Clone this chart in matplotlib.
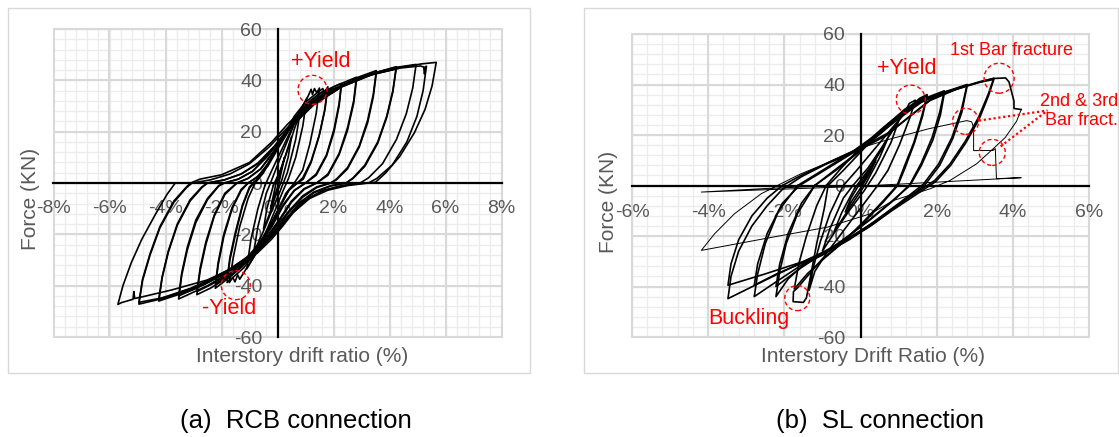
import matplotlib

matplotlib.use("Agg")
import matplotlib.pyplot as plt
import numpy as np
from matplotlib.patches import Ellipse, Rectangle

plt.rcParams["font.family"] = ["Liberation Sans", "DejaVu Sans"]
plt.rcParams["axes.unicode_minus"] = False

W, H, DPI = 1119, 437, 100
GRID_MAJOR = "#d9d9d9"
GRID_MINOR = "#ececec"
LABEL = "#595959"
RED = "#ff0000"

force_ticks = [-60, -40, -20, 0, 20, 40, 60]
rcb_drift_ticks = [-8, -6, -4, -2, 0, 2, 4, 6, 8]
sl_drift_ticks = [-6, -4, -2, 0, 2, 4, 6]

# RCB connection: drift (%) / force (kN) cycles, in loading order
rcb_cycles = [
    [(0, 0), (0.1, 4), (0.25, 10), (0.15, 5), (0.05, 0), (-0.1, -5), (-0.25, -10), (-0.15, -5), (-0.05, 0)],
    [(-0.05, 0), (0.15, 6), (0.35, 13), (0.5, 18), (0.38, 10), (0.15, 1), (-0.1, -6), (-0.3, -12.5),
     (-0.5, -18), (-0.38, -10), (-0.15, -1)],
    [(-0.15, -1), (0.1, 5), (0.4, 14), (0.6, 21), (0.8, 27), (0.65, 17), (0.35, 4), (0.1, -3), (-0.25, -12),
     (-0.55, -20), (-0.85, -27), (-0.7, -17), (-0.4, -4), (-0.25, 0)],
    [(-0.25, 0), (0.0, 7), (0.3, 15), (0.6, 23), (0.85, 29), (1.05, 33), (0.9, 22), (0.65, 10), (0.4, 2),
     (0.2, -3), (-0.1, -11), (-0.45, -20), (-0.8, -28), (-1.1, -33.5), (-0.95, -22), (-0.7, -10), (-0.45, -1)],
    [(-0.45, -1), (-0.2, 5), (0.15, 13), (0.5, 21), (0.85, 29), (1.1, 34), (1.2, 36.5), (1.25, 34.5),
     (1.32, 36.8), (1.4, 35.2), (1.5, 37), (1.38, 27), (1.15, 15), (0.9, 5), (0.6, 0), (0.3, -4), (0.0, -11),
     (-0.4, -20), (-0.8, -28), (-1.15, -34), (-1.35, -37.5), (-1.42, -35.8), (-1.52, -38.5), (-1.6, -36.8),
     (-1.72, -38.8), (-1.58, -29), (-1.35, -17), (-1.05, -6), (-0.8, 0)],
    [(-0.8, 0), (-0.5, 4), (-0.2, 10), (0.2, 18), (0.6, 26), (1.0, 31.5), (1.4, 35), (1.62, 36.8),
     (1.66, 35), (1.8, 37.5), (1.7, 29), (1.5, 19), (1.2, 8.5), (0.9, 2), (0.7, 0), (0.4, -3), (0.1, -9),
     (-0.25, -17), (-0.7, -26), (-1.2, -33), (-1.8, -38.8), (-1.7, -30), (-1.5, -20), (-1.25, -9),
     (-1.0, -2), (-0.85, 0)],
    [(-0.85, 0), (-0.55, 3.5), (-0.25, 9), (0.15, 17), (0.6, 25), (1.05, 31), (1.45, 34.5), (1.78, 36.5),
     (1.68, 28), (1.48, 18), (1.2, 8), (0.92, 1.5), (0.72, 0), (0.42, -2.5), (0.12, -8.5), (-0.25, -16),
     (-0.72, -25), (-1.25, -32.5), (-1.8, -37.5), (-1.7, -29), (-1.5, -19), (-1.25, -8.5), (-1.0, -1.5),
     (-0.85, 0)],
    [(-0.85, 0), (-0.6, 3), (-0.3, 8), (0.1, 16), (0.6, 25), (1.1, 31), (1.6, 35.5), (2.28, 38.8),
     (2.2, 31), (2.02, 21), (1.75, 11), (1.38, 3.5), (1.0, 0), (0.6, -3), (0.2, -9), (-0.2, -17),
     (-0.7, -25), (-1.3, -32.5), (-1.8, -37.5), (-2.22, -41), (-2.12, -32), (-1.92, -21), (-1.62, -10),
     (-1.3, -3), (-1.05, 0)],
    [(-1.05, 0), (-0.7, 2.5), (-0.35, 7.5), (0.05, 15), (0.55, 24), (1.1, 30.5), (1.65, 35), (2.28, 37.8),
     (2.2, 30), (2.02, 20), (1.75, 10.5), (1.38, 3), (1.0, 0), (0.6, -2.8), (0.2, -8.5), (-0.22, -16.5),
     (-0.72, -24.5), (-1.35, -32), (-1.85, -36.5), (-2.22, -39.5), (-2.12, -31), (-1.92, -20),
     (-1.62, -9.5), (-1.3, -2.5), (-1.05, 0)],
    [(-1.05, 0), (-0.75, 2.2), (-0.35, 6.5), (0.05, 14), (0.55, 23), (1.2, 31), (2.0, 37.5), (2.82, 41.2),
     (2.72, 32), (2.5, 21.5), (2.2, 11.5), (1.8, 3.5), (1.4, 0), (0.95, -2.5), (0.5, -7.5), (0.05, -15),
     (-0.4, -22.5), (-1.0, -30), (-1.8, -37), (-2.4, -41), (-2.88, -43.5), (-2.76, -34), (-2.56, -24),
     (-2.26, -13), (-1.88, -4.5), (-1.45, 0)],
    [(-1.45, 0), (-1.05, 1.8), (-0.6, 5.5), (-0.1, 12.5), (0.45, 21.5), (1.15, 30), (1.95, 36.5),
     (2.82, 40), (2.72, 31), (2.5, 20.5), (2.2, 11), (1.8, 3), (1.4, 0), (0.95, -2.2), (0.5, -7),
     (0.05, -14.5), (-0.45, -22), (-1.05, -29.5), (-1.85, -36.5), (-2.45, -40), (-2.88, -42.3),
     (-2.76, -33), (-2.56, -23), (-2.26, -12.5), (-1.88, -4), (-1.45, 0)],
    [(-1.45, 0), (-1.05, 1.8), (-0.6, 5.5), (-0.1, 13), (0.45, 22), (1.1, 29.5), (1.9, 35.8), (2.7, 40.5),
     (3.53, 43.8), (3.42, 34.5), (3.22, 24.5), (2.92, 14.5), (2.5, 6), (2.1, 1.5), (1.9, 0), (1.4, -1.8),
     (0.9, -5.5), (0.4, -11.5), (-0.1, -19), (-0.7, -26.5), (-1.5, -33.5), (-2.5, -40), (-3.53, -45.2),
     (-3.42, -36), (-3.22, -26), (-2.92, -15.5), (-2.5, -6.5), (-2.1, -1.2), (-1.9, 0)],
    [(-1.9, 0), (-1.4, 1.5), (-0.9, 4.5), (-0.4, 10), (0.15, 18), (0.8, 26.5), (1.7, 34), (2.6, 39.5),
     (3.53, 42.8), (3.42, 33.5), (3.22, 23.5), (2.92, 14), (2.5, 5.5), (2.1, 1.2), (1.9, 0), (1.4, -1.5),
     (0.9, -5), (0.4, -11), (-0.15, -18.5), (-0.75, -26), (-1.6, -33.5), (-2.6, -39.5), (-3.53, -44),
     (-3.42, -35), (-3.22, -25), (-2.92, -14.5), (-2.5, -6), (-2.1, -1), (-1.9, 0)],
    [(-1.9, 0), (-1.4, 1.5), (-0.9, 4.5), (-0.35, 10.5), (0.2, 18.5), (0.85, 27), (1.7, 34.5), (2.7, 40),
     (3.5, 43), (4.24, 45.3), (4.12, 36), (3.9, 26), (3.58, 16), (3.12, 7), (2.7, 2), (2.45, 0),
     (1.9, -1.2), (1.3, -3.8), (0.8, -8), (0.3, -14.5), (-0.25, -21.5), (-0.9, -28.5), (-1.8, -35),
     (-3.0, -41.5), (-4.24, -46), (-4.12, -37), (-3.9, -27), (-3.58, -16.5), (-3.12, -7), (-2.7, -1.8),
     (-2.5, 0)],
    [(-2.5, 0), (-1.9, 1.2), (-1.3, 3.5), (-0.7, 7.5), (-0.1, 14), (0.5, 22), (1.3, 30.5), (2.3, 37.5),
     (3.3, 42), (4.24, 44.5), (4.12, 35.5), (3.9, 25.5), (3.58, 15.5), (3.12, 6.5), (2.7, 1.8),
     (2.45, 0), (1.9, -1), (1.3, -3.5), (0.8, -7.5), (0.3, -14), (-0.3, -21), (-0.95, -28), (-1.9, -35),
     (-3.1, -41), (-4.24, -45.2), (-4.12, -36.5), (-3.9, -26.5), (-3.58, -16), (-3.12, -6.5),
     (-2.7, -1.5), (-2.5, 0)],
    [(-2.5, 0), (-1.9, 1.2), (-1.3, 3.5), (-0.7, 7.8), (-0.1, 14.5), (0.5, 22.5), (1.3, 31), (2.3, 38),
     (3.3, 42.5), (4.2, 45), (4.95, 46.2), (4.83, 37), (4.6, 27), (4.25, 17), (3.75, 7.5), (3.25, 2),
     (2.95, 0), (2.3, -1), (1.6, -3), (1.0, -6.5), (0.45, -12.5), (-0.1, -19.5), (-0.8, -27),
     (-1.8, -34.5), (-3.0, -41), (-4.1, -45), (-4.95, -47.2), (-4.82, -38), (-4.55, -28), (-4.2, -17.5),
     (-3.7, -7.5), (-3.25, -1.8), (-3.05, 0)],
    [(-3.05, 0), (-2.4, 1.2), (-1.7, 3.5), (-1.0, 7.5), (-0.3, 14), (0.35, 21.5), (1.2, 30), (2.3, 37.5),
     (3.4, 42.3), (4.4, 44.8), (5.1, 45.6), (5.22, 45.2), (5.25, 42.5), (5.28, 45.3), (5.32, 45.5),
     (5.2, 36), (4.98, 26), (4.62, 16), (4.1, 7), (3.55, 1.8), (3.25, 0), (2.5, -1), (1.8, -2.8),
     (1.15, -6), (0.55, -11.5), (0.0, -18.5), (-0.7, -26), (-1.7, -33.5), (-2.9, -40.5), (-4.0, -44.5),
     (-4.95, -46.5), (-4.82, -37.5), (-4.55, -27.5), (-4.2, -17), (-3.7, -7), (-3.25, -1.5), (-3.1, 0)],
    [(-3.1, 0), (-2.77, 1.5), (-2.0, 3.2), (-1.0, 8), (-0.2, 16), (0.35, 22.8), (0.95, 29), (1.82, 35.5),
     (2.84, 40.6), (4.12, 44.5), (5.14, 46.4), (5.67, 47), (5.52, 37.8), (5.27, 28.7), (4.89, 19.6),
     (4.37, 10.4), (3.86, 3.9), (3.5, 0.3), (2.84, -0.3), (2.2, -1.3), (1.57, -3.3), (1.06, -6.5),
     (0.55, -11.7), (0.17, -17), (-0.22, -22), (-0.73, -27.4), (-1.49, -32.6), (-2.51, -37.8),
     (-3.79, -41.7), (-4.81, -44.3), (-5.1, -45), (-5.13, -42.3), (-5.16, -45.3), (-5.57, -46.6),
     (-5.7, -47.3), (-5.52, -40), (-5.22, -31), (-4.85, -22), (-4.35, -12), (-3.95, -4.5), (-3.65, 0)],
]

# SL connection: cycles up to the first bar fracture
sl_cycles = [
    [(0, 0), (0.2, 5), (0.4, 10), (0.25, 5), (0.05, 0), (-0.2, -5.5), (-0.4, -10.5), (-0.25, -5), (-0.05, 0)],
    [(-0.05, 0), (0.3, 8), (0.7, 18), (0.5, 11), (0.15, 1), (-0.25, -8), (-0.7, -18.5), (-0.5, -11),
     (-0.15, -1)],
    [(-0.15, -1), (0.3, 8), (0.7, 18.5), (1.0, 25.5), (0.8, 17), (0.4, 5), (0.1, -2), (-0.3, -10),
     (-0.7, -19), (-1.0, -26), (-0.8, -17), (-0.45, -5), (-0.2, 0)],
    [(-0.2, 0), (0.2, 7), (0.6, 16), (0.95, 24.5), (1.2, 30), (1.28, 32.5), (1.44, 33.8), (1.3, 27),
     (1.02, 16), (0.72, 6), (0.45, 0), (0.1, -7), (-0.4, -17), (-0.9, -27), (-1.2, -34), (-1.35, -41.5),
     (-1.25, -33), (-1.05, -22), (-0.8, -11), (-0.55, -3), (-0.45, 0)],
    [(-0.45, 0), (-0.1, 6), (0.4, 15), (0.9, 24), (1.3, 31), (1.55, 34.5), (1.75, 36), (1.62, 28),
     (1.4, 17), (1.15, 7.5), (0.96, 0), (0.6, -6), (0.1, -14), (-0.5, -23), (-1.0, -29), (-1.4, -36),
     (-1.65, -40.5), (-1.76, -42), (-1.77, -46), (-1.5, -46.3), (-1.42, -44.5), (-1.3, -35), (-1.15, -23),
     (-0.95, -9), (-0.85, 0)],
    [(-0.85, 0), (-0.45, 6), (0.05, 14), (0.6, 22.5), (1.15, 30), (1.55, 34), (1.75, 35.5), (1.63, 27.5),
     (1.42, 17), (1.17, 7), (0.98, 0), (0.6, -6.5), (0.1, -14.5), (-0.5, -23), (-1.0, -29.5), (-1.4, -35),
     (-1.74, -41), (-1.62, -31), (-1.42, -20), (-1.15, -8), (-0.9, 0)],
    [(-0.9, 0), (-0.5, 7), (0, 15), (0.6, 23), (1.2, 30.5), (1.6, 34), (2.2, 37.5), (2.08, 29), (1.88, 19),
     (1.6, 9), (1.3, 0.5), (0.9, -5.5), (0.3, -13), (-0.4, -21), (-1.0, -27.5), (-1.5, -31.5), (-1.9, -37),
     (-2.22, -44), (-2.12, -34), (-1.95, -23), (-1.65, -11), (-1.2, 0)],
    [(-1.2, 0), (-0.6, 6.5), (0.1, 15), (0.7, 23.5), (1.25, 30.5), (1.7, 34.5), (2.2, 36.5), (2.1, 28),
     (1.9, 18), (1.6, 8), (1.3, 0), (0.8, -6.5), (0.2, -14), (-0.5, -22), (-1.1, -28), (-1.6, -33),
     (-2.22, -40), (-2.12, -31), (-1.9, -19), (-1.55, -7), (-1.2, 0)],
    [(-1.2, 0), (-0.6, 7), (0, 14), (0.6, 21.5), (1.2, 29.5), (1.7, 34), (2.3, 37.5), (2.8, 40), (2.65, 30),
     (2.4, 19), (2.05, 8.5), (1.65, 0.5), (1.1, -6), (0.4, -14), (-0.3, -21), (-0.9, -26.5), (-1.5, -31),
     (-2.2, -38), (-2.79, -44), (-2.7, -35), (-2.5, -23), (-2.15, -10), (-1.65, 0)],
    [(-1.65, 0), (-1.0, 6), (-0.3, 12.5), (0.4, 20), (1.1, 28), (1.6, 33.5), (2.2, 37), (2.8, 39.5),
     (2.66, 29), (2.42, 18.5), (2.08, 8), (1.68, 0), (1.1, -6.5), (0.4, -14.5), (-0.3, -21.5), (-1.0, -27.5),
     (-1.5, -30.5), (-2.2, -35), (-2.79, -39.5), (-2.7, -31), (-2.45, -19), (-2.05, -7), (-1.6, 0)],
    [(-1.6, 0), (-1.0, 5.5), (-0.3, 12), (0.4, 19.5), (1.1, 27.5), (1.6, 33), (2.2, 36.5), (2.8, 39.5),
     (3.2, 41.2), (3.5, 42.5), (3.35, 36), (3.1, 27), (2.75, 17.5), (2.35, 8.5), (1.95, 2), (1.4, -3.5),
     (0.8, -9.5), (0.2, -16), (-0.5, -22.5), (-1.0, -26.5), (-1.48, -30), (-2.5, -37.5), (-3.48, -44.8),
     (-3.4, -36), (-3.2, -26), (-2.85, -16), (-2.45, -8), (-2.05, -1.5)],
    [(-2.05, -1.5), (-1.55, 3.5), (-0.9, 8.5), (-0.1, 13.5), (0.7, 20), (1.3, 27.5), (1.8, 33.5), (2.5, 38),
     (3.1, 40.8), (3.5, 42), (3.36, 35.5), (3.12, 26.5), (2.77, 17), (2.37, 8), (1.97, 1.5), (1.42, -4),
     (0.82, -10), (0.22, -16.5), (-0.5, -23), (-1.0, -27), (-1.48, -30), (-2.5, -35), (-3.48, -39.5),
     (-3.4, -31), (-3.2, -21.5), (-2.85, -12), (-2.45, -5), (-2.05, 0)],
    [(-2.05, 0), (-1.5, 4.5), (-0.85, 9), (-0.05, 14.5), (0.75, 21), (1.35, 28), (1.85, 34), (2.55, 38.5),
     (3.15, 41.2), (3.51, 42.4), (3.81, 42.6), (3.9, 41), (4.03, 33.4), (4.03, 30.5), (4.22, 30.1)],
]

# SL connection after the bar fractures
sl_post_fracture = [
    (4.22, 30.1), (4.1, 25.5), (3.8, 19), (3.48, 14.5), (3.05, 8.6), (2.35, 2.0), (1.83, -1.3),
    (0.87, -5.9), (0.26, -11.2), (-0.87, -16.5), (-2.5, -21), (-4.18, -25.7), (-3.83, -19.1),
    (-3.31, -11.2), (-2.61, -3.3), (-2.09, 0.7), (-1.57, 4.6), (-1.04, 7.9), (-0.09, 14.5), (0.8, 18.5),
    (1.8, 22.5), (2.79, 25.7), (2.92, 25.2), (2.97, 23), (2.97, 13.8), (3.48, 13.9), (3.54, 14.6),
    (3.57, 2.7), (4.22, 3.1), (-0.3, -0.5), (-4.18, -2.6), (-2.5, -1.2), (-0.6, 0),
]


def fig_x(px):
    return px / W


def fig_y(py):
    return 1 - py / H


def axes_at(fig, left, top, right, bottom):
    return fig.add_axes([fig_x(left), fig_y(bottom), (right - left) / W, (bottom - top) / H])


def style_axes(ax, drift_ticks, xpad):
    lim = max(drift_ticks)
    ax.set_xlim(-lim, lim)
    ax.set_ylim(-60, 60)
    ax.set_xticks(drift_ticks)
    ax.set_xticklabels([f"{t}%" for t in drift_ticks])
    ax.set_yticks(force_ticks)
    ax.set_yticklabels([str(t) for t in force_ticks])

    # grid drawn by hand so it stays under the tick labels
    for v in np.arange(-lim, lim + 0.01, 0.4):
        ax.axvline(v, color=GRID_MINOR, lw=1.0, zorder=0.1)
    for v in np.arange(-60, 61, 4):
        ax.axhline(v, color=GRID_MINOR, lw=1.0, zorder=0.1)
    for v in drift_ticks:
        ax.axvline(v, color=GRID_MAJOR, lw=1.5, zorder=0.2)
    for v in force_ticks:
        ax.axhline(v, color=GRID_MAJOR, lw=1.5, zorder=0.2)

    ax.set_axisbelow(True)
    ax.patch.set_alpha(0)
    for s in ("top", "right"):
        ax.spines[s].set_visible(False)
    for s in ("left", "bottom"):
        ax.spines[s].set_position("zero")
        ax.spines[s].set_linewidth(1.6)
        ax.spines[s].set_color("black")
    ax.tick_params(which="both", length=0, labelsize=14, labelcolor=LABEL)
    ax.tick_params(axis="x", pad=xpad)
    ax.tick_params(axis="y", pad=11)
    ax.add_patch(Rectangle((0, 0), 1, 1, transform=ax.transAxes, fill=False,
                           ec=GRID_MAJOR, lw=1.5, clip_on=False, zorder=0.3))


def draw_path(ax, pts, lw):
    xs = [p[0] for p in pts]
    ys = [p[1] for p in pts]
    ax.plot(xs, ys, color="black", lw=lw, solid_joinstyle="round", zorder=2)


def ring(ax, x, y, r_px):
    # dashed circle, round on screen regardless of axis scaling
    pos = ax.get_position()
    x0, x1 = ax.get_xlim()
    y0, y1 = ax.get_ylim()
    sx = pos.width * W / (x1 - x0)
    sy = pos.height * H / (y1 - y0)
    ax.add_patch(Ellipse((x, y), 2 * r_px / sx, 2 * r_px / sy, fill=False, ec=RED,
                         lw=1.0, ls=(0, (3, 2)), zorder=4, clip_on=False))


def note(ax, x, y, s, size, **kw):
    ax.text(x, y, s, color=RED, fontsize=size, ha=kw.pop("ha", "center"), va="center",
            zorder=5, clip_on=False, **kw)


fig = plt.figure(figsize=(W / DPI, H / DPI), dpi=DPI)

for box in [(8, 8, 530, 373), (584, 8, 1118, 373)]:
    l, t, r, b = box
    fig.add_artist(Rectangle((fig_x(l), fig_y(b)), (r - l) / W, (b - t) / H,
                             transform=fig.transFigure, fill=False, ec=GRID_MAJOR, lw=1.0))

# (a) RCB connection
ax_a = axes_at(fig, 53.5, 29, 501.5, 337)
style_axes(ax_a, rcb_drift_ticks, 12)
for cyc in rcb_cycles:
    draw_path(ax_a, cyc, 1.2)
ring(ax_a, 1.25, 36.3, 14.5)
ring(ax_a, -1.49, -39.8, 14.5)
note(ax_a, 1.56, 47.5, "+Yield", 15.5)
note(ax_a, -1.73, -49.0, "-Yield", 15.5)

# (b) SL connection
ax_b = axes_at(fig, 632, 34, 1089, 337)
style_axes(ax_b, sl_drift_ticks, 13)
for cyc in sl_cycles:
    draw_path(ax_b, cyc, 1.2)
draw_path(ax_b, sl_post_fracture, 0.7)
ring(ax_b, 1.32, 34.0, 14.5)
ring(ax_b, 3.64, 42.5, 15)
ring(ax_b, 2.76, 25.4, 13)
ring(ax_b, 3.46, 13.1, 13)
ring(ax_b, -1.66, -44.6, 12.5)
note(ax_b, 1.21, 46.2, "+Yield", 15.5)
note(ax_b, 3.97, 53.6, "1st Bar fracture", 13)
note(ax_b, 6.76, 33.4, "2nd & 3rd", 13, ha="right")
note(ax_b, 6.76, 25.8, "Bar fract.", 13, ha="right")
note(ax_b, -2.92, -52.7, "Buckling", 15.5)
for x0, y0 in [(3.11, 25.7), (3.68, 15.5)]:
    ax_b.plot([x0, 4.91], [y0, 29.7], color=RED, lw=1.6, ls=(0, (1, 1.2)), zorder=4, clip_on=False)

# axis titles and captions
fig.text(fig_x(30), fig_y(199), "Force (KN)", rotation=90, ha="center", va="center",
         fontsize=15, color=LABEL)
fig.text(fig_x(302), fig_y(357), "Interstory drift ratio (%)", ha="center", va="center",
         fontsize=15, color=LABEL)
fig.text(fig_x(608), fig_y(202), "Force (KN)", rotation=90, ha="center", va="center",
         fontsize=15, color=LABEL)
fig.text(fig_x(873), fig_y(357), "Interstory Drift Ratio (%)", ha="center", va="center",
         fontsize=15, color=LABEL)
fig.text(fig_x(296), fig_y(421), "(a)  RCB connection", ha="center", va="center", fontsize=18.5)
fig.text(fig_x(880), fig_y(421), "(b)  SL connection", ha="center", va="center", fontsize=18.5)

fig.savefig("out.png", dpi=DPI)
